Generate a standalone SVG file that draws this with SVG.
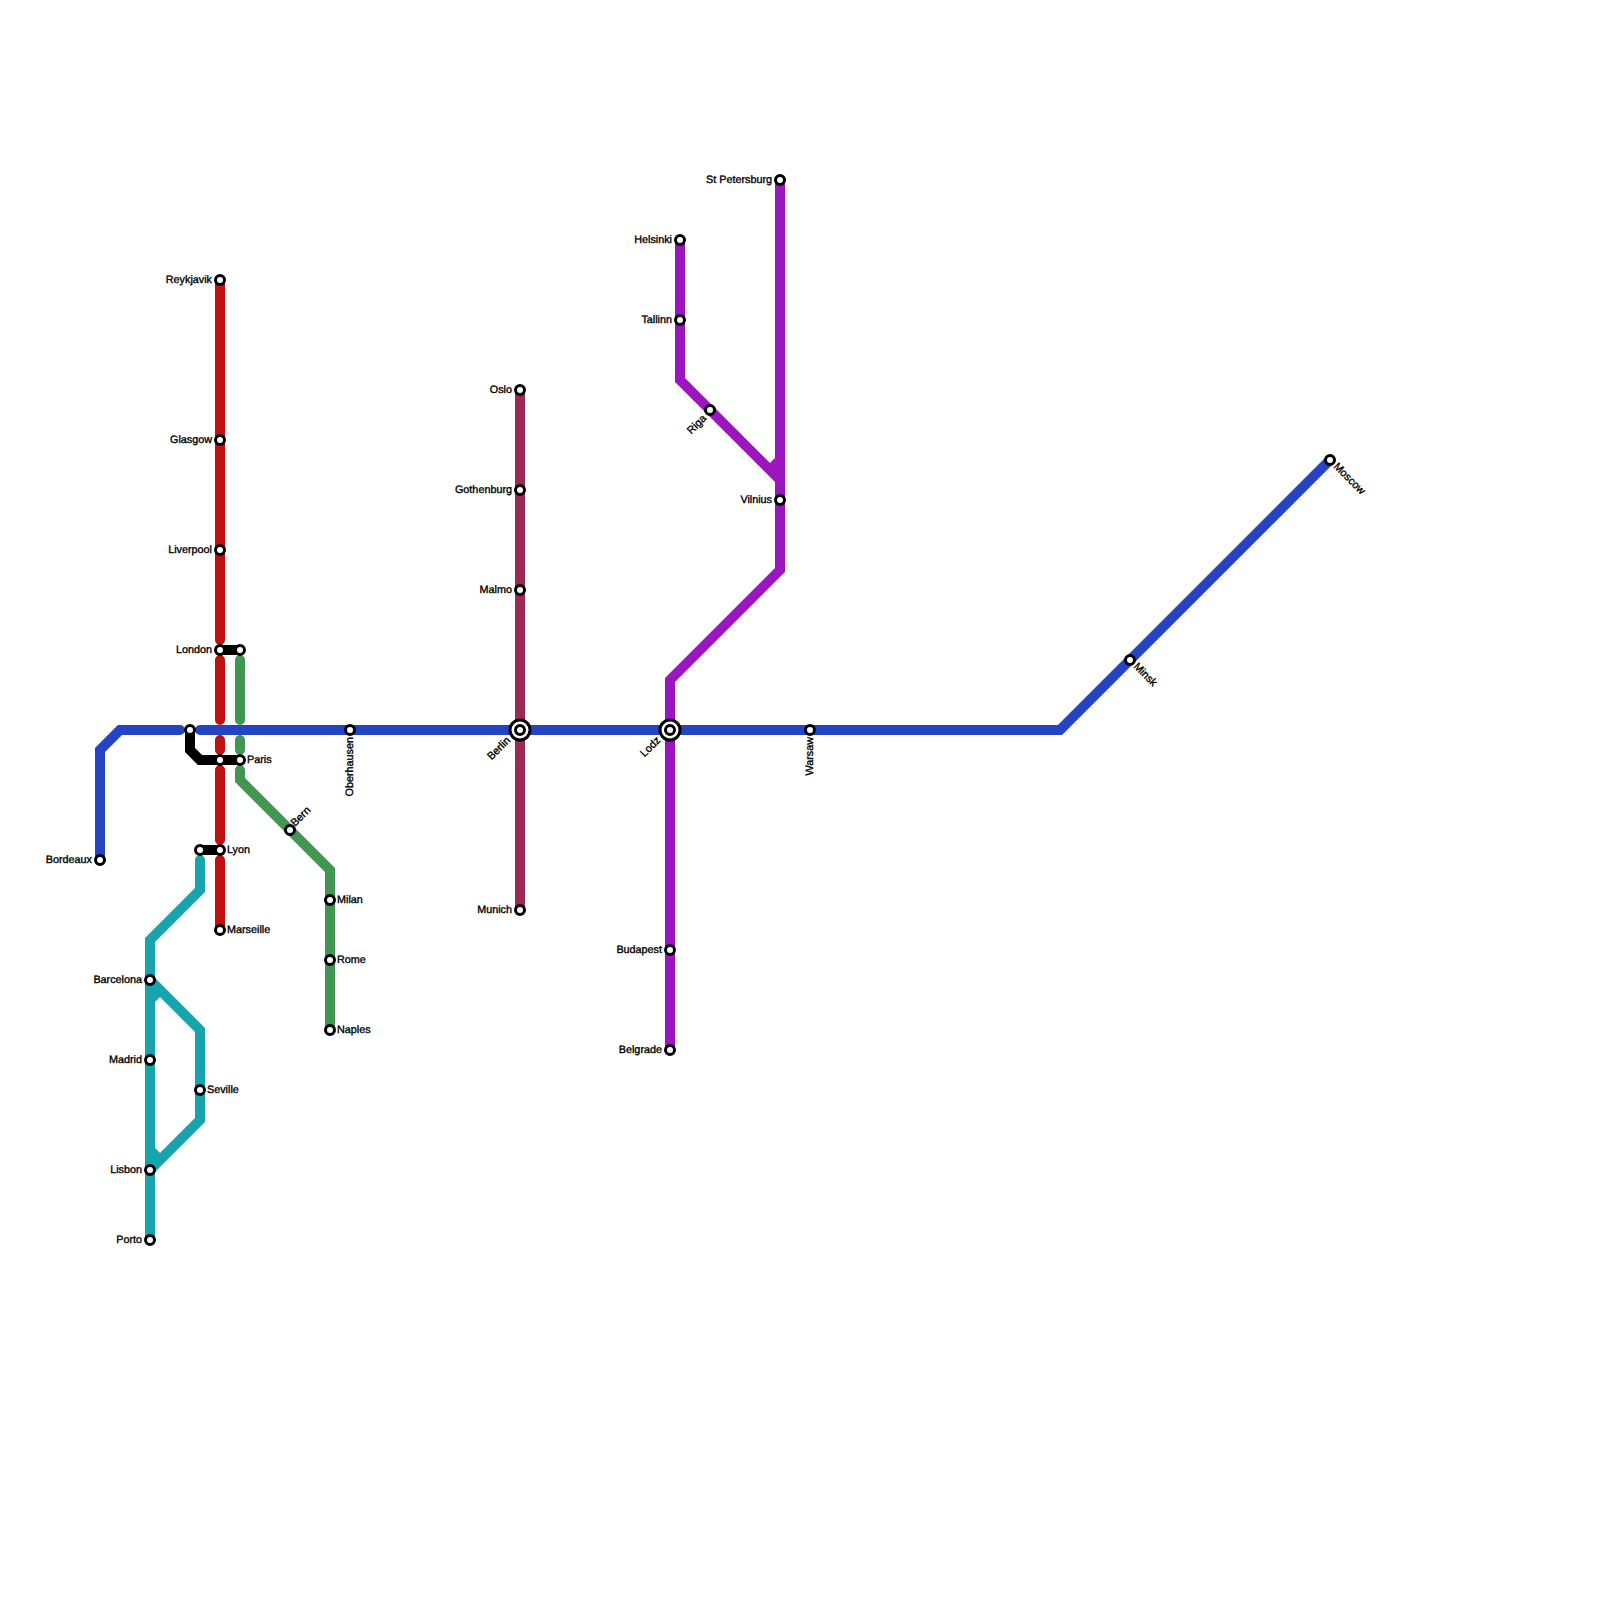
<svg xmlns="http://www.w3.org/2000/svg" width="1600" height="1600" viewBox="0 0 1600 1600">
<style>
.l{fill:none;stroke-width:10;stroke-linecap:round;stroke-linejoin:miter}
.b{stroke:#2444c4}.r{stroke:#c01010}.g{stroke:#409652}.t{stroke:#17a4ac}.p{stroke:#9c16c0}.m{stroke:#992b55}.k{stroke:#000}
.f{stroke-linecap:butt}
.s{fill:#fff;stroke:#000;stroke-width:3}
text{font-family:"Liberation Sans",Arial,sans-serif;font-size:10.8px;font-weight:400;fill:#000;stroke:#000;stroke-width:.35;text-rendering:geometricPrecision}
.e{text-anchor:end}
</style>
<rect width="1600" height="1600" fill="#fff"/>
<g id="connectors">
<path class="l m" d="M520 390V910"/>
<path class="l r" d="M220 280V640M220 660V720M220 740V750M220 770V840M220 860V930"/>
<path class="l g" d="M240 660V720M240 740V750M240 770V780L330 870V1030"/>
<path class="l t" d="M200 860V890L150 940V1240"/>
<path class="l t f" d="M150 980L200 1030V1120L150 1170M150 1000L160 990M150 1150L160 1160"/>
<path class="l p" d="M680 240V380L780 480"/>
<path class="l p f" d="M780 460L770 470"/>
<path class="l p" d="M780 180V570L670 680V1050"/>
<path class="l b" d="M100 860V750L120 730H180M200 730H1060L1330 460"/>
<path class="l k" d="M190 730V750L200 760H240M220 650H240M200 850H220"/>
</g>
<g id="n-bordeaux"><circle class="s" cx="100" cy="860" r="4.5"/><text class="e" x="92" y="863">Bordeaux</text></g>
<g id="n-reykjavik"><circle class="s" cx="220" cy="280" r="4.5"/><text class="e" x="212" y="283">Reykjavik</text></g>
<g id="n-glasgow"><circle class="s" cx="220" cy="440" r="4.5"/><text class="e" x="212" y="443">Glasgow</text></g>
<g id="n-liverpool"><circle class="s" cx="220" cy="550" r="4.5"/><text class="e" x="212" y="553">Liverpool</text></g>
<g id="n-london"><circle class="s" cx="220" cy="650" r="4.5"/><circle class="s" cx="240" cy="650" r="4.5"/><text class="e" x="212" y="653">London</text></g>
<g id="n-junction"><circle class="s" cx="190" cy="730" r="4.5"/></g>
<g id="n-paris"><circle class="s" cx="220" cy="760" r="4.5"/><circle class="s" cx="240" cy="760" r="4.5"/><text x="247" y="763">Paris</text></g>
<g id="n-lyon"><circle class="s" cx="200" cy="850" r="4.5"/><circle class="s" cx="220" cy="850" r="4.5"/><text x="227" y="853">Lyon</text></g>
<g id="n-marseille"><circle class="s" cx="220" cy="930" r="4.5"/><text x="227" y="933">Marseille</text></g>
<g id="n-bern"><circle class="s" cx="290" cy="830" r="4.5"/><text transform="translate(295 827) rotate(-45)">Bern</text></g>
<g id="n-milan"><circle class="s" cx="330" cy="900" r="4.5"/><text x="337" y="903">Milan</text></g>
<g id="n-rome"><circle class="s" cx="330" cy="960" r="4.5"/><text x="337" y="963">Rome</text></g>
<g id="n-naples"><circle class="s" cx="330" cy="1030" r="4.5"/><text x="337" y="1033">Naples</text></g>
<g id="n-oberhausen"><circle class="s" cx="350" cy="730" r="4.5"/><text class="e" transform="translate(353 737) rotate(-90)">Oberhausen</text></g>
<g id="n-barcelona"><circle class="s" cx="150" cy="980" r="4.5"/><text class="e" x="142" y="983">Barcelona</text></g>
<g id="n-madrid"><circle class="s" cx="150" cy="1060" r="4.5"/><text class="e" x="142" y="1063">Madrid</text></g>
<g id="n-lisbon"><circle class="s" cx="150" cy="1170" r="4.5"/><text class="e" x="142" y="1173">Lisbon</text></g>
<g id="n-porto"><circle class="s" cx="150" cy="1240" r="4.5"/><text class="e" x="142" y="1243">Porto</text></g>
<g id="n-seville"><circle class="s" cx="200" cy="1090" r="4.5"/><text x="207" y="1093">Seville</text></g>
<g id="n-oslo"><circle class="s" cx="520" cy="390" r="4.5"/><text class="e" x="512" y="393">Oslo</text></g>
<g id="n-gothenburg"><circle class="s" cx="520" cy="490" r="4.5"/><text class="e" x="512" y="493">Gothenburg</text></g>
<g id="n-malmo"><circle class="s" cx="520" cy="590" r="4.5"/><text class="e" x="512" y="593">Malmo</text></g>
<g id="n-berlin"><circle class="s" cx="520" cy="730" r="10"/><circle class="s" cx="520" cy="730" r="4.5"/><text class="e" transform="translate(511 741) rotate(-45)">Berlin</text></g>
<g id="n-munich"><circle class="s" cx="520" cy="910" r="4.5"/><text class="e" x="512" y="913">Munich</text></g>
<g id="n-lodz"><circle class="s" cx="670" cy="730" r="10"/><circle class="s" cx="670" cy="730" r="4.5"/><text class="e" transform="translate(661 741) rotate(-45)">Lodz</text></g>
<g id="n-budapest"><circle class="s" cx="670" cy="950" r="4.5"/><text class="e" x="662" y="953">Budapest</text></g>
<g id="n-belgrade"><circle class="s" cx="670" cy="1050" r="4.5"/><text class="e" x="662" y="1053">Belgrade</text></g>
<g id="n-helsinki"><circle class="s" cx="680" cy="240" r="4.5"/><text class="e" x="672" y="243">Helsinki</text></g>
<g id="n-tallinn"><circle class="s" cx="680" cy="320" r="4.5"/><text class="e" x="672" y="323">Tallinn</text></g>
<g id="n-riga"><circle class="s" cx="710" cy="410" r="4.5"/><text class="e" transform="translate(707 419) rotate(-45)">Riga</text></g>
<g id="n-stpetersburg"><circle class="s" cx="780" cy="180" r="4.5"/><text class="e" x="772" y="183">St Petersburg</text></g>
<g id="n-vilnius"><circle class="s" cx="780" cy="500" r="4.5"/><text class="e" x="772" y="503">Vilnius</text></g>
<g id="n-warsaw"><circle class="s" cx="810" cy="730" r="4.5"/><text class="e" transform="translate(813 737) rotate(-90)">Warsaw</text></g>
<g id="n-minsk"><circle class="s" cx="1130" cy="660" r="4.5"/><text transform="translate(1133 667) rotate(45)">Minsk</text></g>
<g id="n-moscow"><circle class="s" cx="1330" cy="460" r="4.5"/><text transform="translate(1333 467) rotate(45)">Moscow</text></g>
</svg>
